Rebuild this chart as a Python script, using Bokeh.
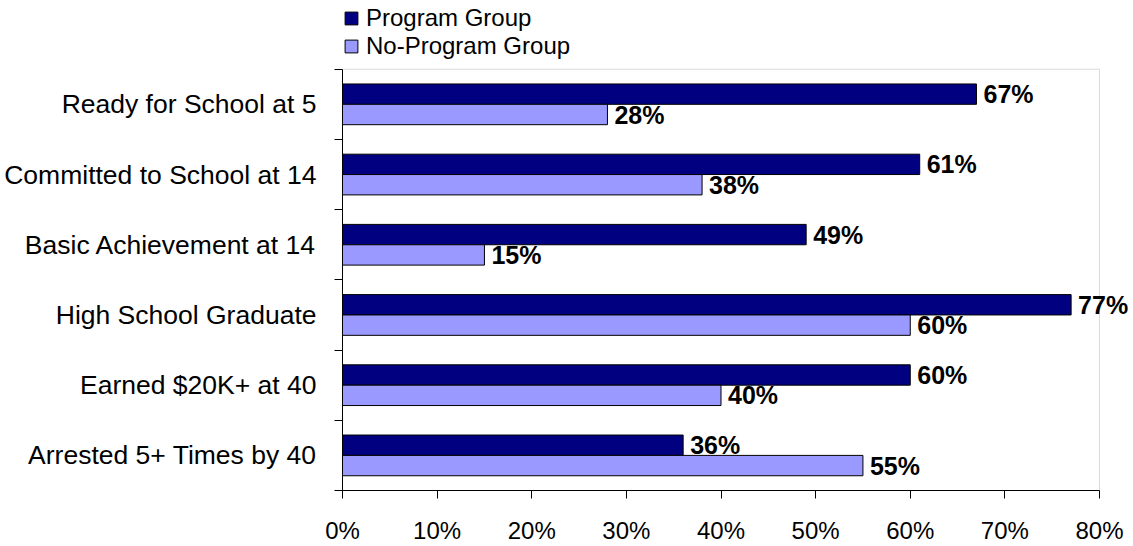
from bokeh.plotting import figure
from bokeh.models import (ColumnDataSource, Range1d, FixedTicker, NumeralTickFormatter, Legend,
                          LegendItem, LabelSet, BoxAnnotation)
from bokeh.core.properties import value
from bokeh.embed import file_html
from bokeh.resources import INLINE

categories = [
    "Ready for School at 5",
    "Committed to School at 14",
    "Basic Achievement at 14",
    "High School Graduate",
    "Earned $20K+ at 40",
    "Arrested 5+ Times by 40",
]
program = [67, 61, 49, 77, 60, 36]
no_program = [28, 38, 15, 60, 40, 55]
series_names = ["Program Group", "No-Program Group"]
x_ticks = [0, 10, 20, 30, 40, 50, 60, 70, 80]

FONT = "Liberation Sans"
W, H = 1133, 546
LEFT, RIGHT_EDGE, TOP_EDGE, BOTTOM_AX = 342, 1099, 69, 54   # pixel layout
n = len(categories)
pos = [float(n - i) for i in range(n)]
half = 0.145
xmax = x_ticks[-1] / 100

frame_h = H - BOTTOM_AX
unit = (frame_h - TOP_EDGE) / n
y_end = n + 0.5 + TOP_EDGE / unit
x_end = xmax * (W - LEFT) / (RIGHT_EDGE - LEFT)

src_p = ColumnDataSource(dict(y=[v + half for v in pos], x=[v / 100 for v in program],
                              label=[f"{v}%" for v in program]))
src_n = ColumnDataSource(dict(y=[v - half for v in pos], x=[v / 100 for v in no_program],
                              label=[f"{v}%" for v in no_program]))

p = figure(width=W, height=H, x_range=Range1d(0, x_end), y_range=Range1d(0.5, y_end),
           output_backend="svg", toolbar_location=None,
           min_border_left=LEFT, min_border_right=0, min_border_top=0, min_border_bottom=40)
p.xgrid.visible = False
p.ygrid.visible = False
p.outline_line_color = None
p.background_fill_color = "white"
p.border_fill_color = "white"

p.add_layout(BoxAnnotation(left=0, right=xmax, bottom=0.5, top=n + 0.5, fill_alpha=0,
                           line_color="#888888", line_width=1, level="underlay"))

r1 = p.hbar(y="y", right="x", left=0, height=0.29, fill_color="#000080", line_color="black",
            line_width=1, source=src_p)
r2 = p.hbar(y="y", right="x", left=0, height=0.29, fill_color="#9999FF", line_color="black",
            line_width=1, source=src_n)

for src in (src_p, src_n):
    p.add_layout(LabelSet(x="x", y="y", text="label", source=src, x_offset=7,
                          text_baseline="middle", text_align="left", text_font=value(FONT),
                          text_font_style="bold", text_font_size="25px", text_color="black"))

xa = p.xaxis[0]
xa.ticker = FixedTicker(ticks=[t / 100 for t in x_ticks], minor_ticks=[])
xa.formatter = NumeralTickFormatter(format="0%")
xa.bounds = (0, xmax)
xa.major_tick_out = 8
xa.major_tick_in = 0
xa.minor_tick_out = 0
xa.minor_tick_in = 0
xa.major_label_standoff = 18
xa.major_label_text_font = FONT
xa.major_label_text_font_size = "24px"
xa.major_label_text_color = "black"
xa.axis_line_color = "black"
xa.major_tick_line_color = "black"

ya = p.yaxis[0]
ya.ticker = FixedTicker(ticks=pos, minor_ticks=[0.5 + i for i in range(n + 1)])
ya.major_label_overrides = {v: c for v, c in zip(pos, categories)}
ya.bounds = (0.5, n + 0.5)
ya.major_tick_out = 0
ya.major_tick_in = 0
ya.minor_tick_out = 8
ya.minor_tick_in = 0
ya.minor_tick_line_color = "black"
ya.major_label_standoff = 18
ya.major_label_text_font = FONT
ya.major_label_text_font_size = "26.5px"
ya.major_label_text_color = "black"
ya.axis_line_color = "black"

legend = Legend(items=[LegendItem(label=series_names[0], renderers=[r1]),
                       LegendItem(label=series_names[1], renderers=[r2])],
                location=(1, frame_h - 62), orientation="vertical", padding=0, margin=0,
                spacing=0, glyph_width=16, glyph_height=16, label_height=28, label_standoff=7,
                label_text_font=FONT, label_text_font_size="24px", label_text_color="black",
                border_line_color=None, background_fill_alpha=0)
p.add_layout(legend, "center")

open("out.html", "w").write(file_html(p, INLINE))
